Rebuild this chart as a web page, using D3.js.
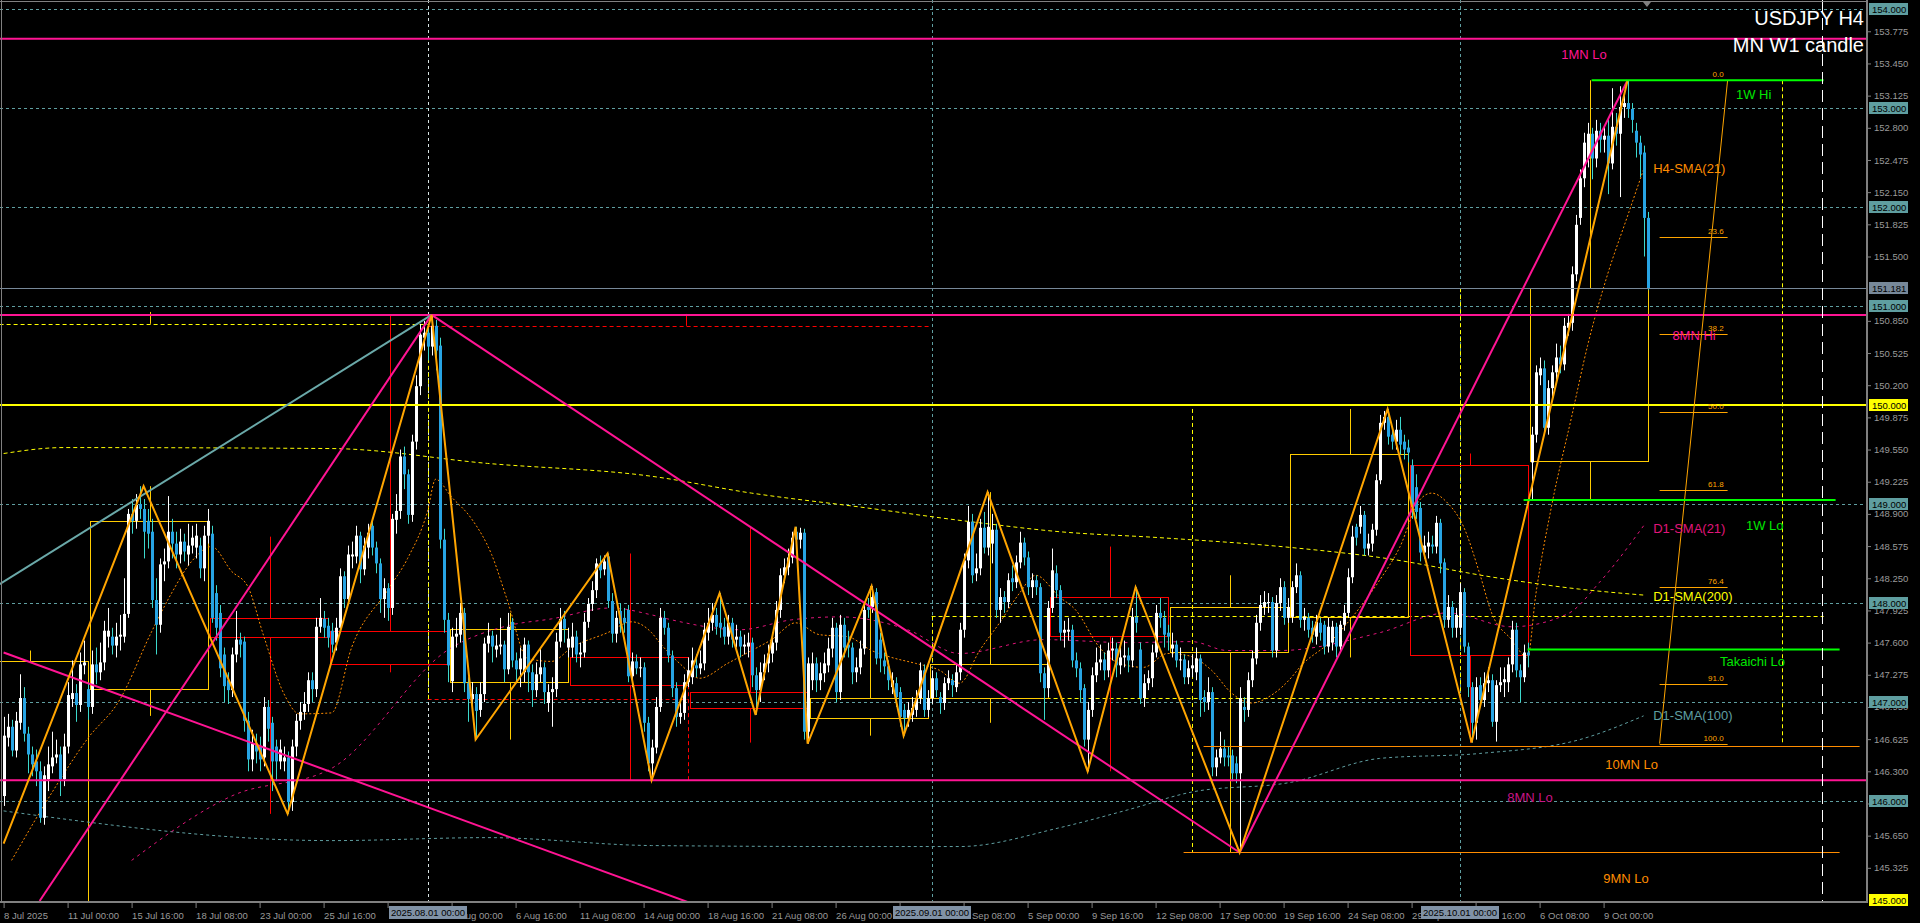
<!DOCTYPE html>
<html><head><meta charset="utf-8">
<script src="https://cdn.jsdelivr.net/npm/d3@7"></script>
<style>html,body{margin:0;padding:0;background:#000;overflow:hidden}svg{display:block}</style>
</head><body>
<svg id="c" width="1920" height="923"></svg>
<script>
// ---------------- DATA (USDJPY H4, bar index 0 = 8 Jul 2025 08:00) ----------------
const opens = [
146.05,146.64,146.75,146.51,146.79,147.04,146.68,146.47,146.40,146.30,
145.83,146.22,146.35,146.44,146.47,146.22,146.55,147.03,147.09,146.97,
147.37,147.13,146.95,147.38,147.30,147.40,147.66,147.66,147.57,147.66,
147.66,147.89,148.90,148.83,149.00,148.95,148.83,148.72,148.03,147.78,
148.39,148.42,148.72,148.60,148.49,148.62,148.49,148.58,148.56,148.58,
148.35,148.68,148.70,148.10,147.90,147.48,147.22,147.12,147.48,147.63,
147.61,146.81,146.42,146.58,146.55,146.44,146.95,146.79,146.55,146.40,
146.40,146.44,145.99,146.55,146.81,146.90,146.98,147.22,147.13,147.76,
147.84,147.77,147.72,147.60,147.75,148.27,148.04,148.47,148.47,148.68,
148.34,148.56,148.78,148.56,148.40,148.04,148.15,147.95,148.84,148.93,
149.48,149.30,148.89,149.63,150.19,150.68,150.73,150.59,150.80,150.60,
148.64,147.83,147.21,147.66,147.68,147.90,147.19,147.03,147.08,146.92,
147.08,147.59,147.67,147.53,147.56,147.58,147.33,147.81,147.42,147.33,
147.30,147.58,147.30,147.12,147.28,147.35,146.99,147.10,147.13,147.61,
147.84,147.55,147.55,147.66,147.48,147.50,147.81,147.99,148.13,148.40,
148.34,148.47,148.02,147.69,147.92,147.85,147.93,147.26,147.41,147.34,
147.35,146.79,
146.38,146.54,146.95,147.85,147.75,147.47,147.14,146.85,146.89,147.20,
147.25,147.37,147.34,147.39,147.70,147.80,147.88,147.80,147.76,147.66,
147.80,147.63,147.66,147.56,147.56,147.60,147.27,147.12,147.30,147.39,
147.49,147.60,147.93,148.28,148.36,148.46,148.72,148.64,148.71,146.70,
147.22,147.39,147.22,147.29,147.37,147.54,147.75,147.10,147.78,147.58,
147.55,147.30,147.35,147.54,147.96,147.96,148.11,147.63,147.42,147.36,
147.15,147.19,147.10,146.92,146.84,146.87,146.92,147.04,147.32,146.92,
147.04,147.24,147.05,146.99,147.19,147.22,147.15,147.30,147.73,148.43,
148.82,148.30,148.35,148.76,148.56,148.60,148.74,147.93,148.06,148.01,
148.25,148.21,148.41,148.61,148.46,148.16,148.23,148.16,147.29,147.14,
147.95,148.30,148.13,147.70,147.71,147.73,147.42,147.34,147.14,146.62,
146.92,147.27,147.40,147.43,147.32,147.52,147.54,147.37,147.45,147.47,
147.42,147.86,147.53,147.04,147.19,147.24,147.50,147.90,147.85,147.70,
147.54,147.58,147.42,147.43,147.25,147.34,147.30,147.44,147.05,147.00,
147.10,146.34,146.44,146.53,146.46,146.46,146.38,146.28,146.95,146.92,
147.22,147.44,147.80,147.96,148.00,148.01,147.52,148.00,148.16,147.85,
147.86,148.16,148.28,147.83,147.85,147.75,147.66,147.80,147.78,147.56,
147.60,147.76,147.56,147.78,147.90,148.26,148.77,148.77,148.89,148.55,
148.60,148.74,149.24,149.82,149.88,149.70,149.63,149.75,149.63,149.57,
149.39,149.17,148.96,148.51,148.57,148.59,148.57,148.81,148.41,147.83,
147.96,147.75,147.75,148.11,147.56,147.15,146.79,147.17,147.02,147.19,
147.22,146.80,147.17,147.20,147.20,147.38,147.73,147.32,147.25,147.50,
149.42,149.70,150.30,150.37,149.77,150.17,150.33,150.48,150.41,150.78,
150.83,151.32,151.89,152.29,152.49,152.74,152.49,152.77,152.68,152.72,
152.44,152.81,152.74,153.01,153.05,152.99,152.77,152.65,152.55,151.89];
const closes = [
146.66,146.75,146.51,146.81,147.04,146.68,146.47,146.37,146.30,145.83,
146.26,146.37,146.44,146.47,146.22,146.55,147.07,147.09,146.97,147.38,
147.40,146.95,147.38,147.30,147.40,147.72,147.72,147.57,147.66,147.68,
147.89,148.90,148.83,148.99,148.95,148.72,148.70,148.03,147.78,148.39,
148.42,148.72,148.60,148.49,148.62,148.52,148.58,148.66,148.68,148.35,
148.68,148.83,147.85,147.75,147.34,147.16,147.12,147.48,147.63,147.58,
146.81,146.42,146.58,146.50,146.42,146.95,146.73,146.40,146.40,146.52,
146.44,145.99,146.55,146.81,146.90,146.98,147.22,147.13,147.76,147.85,
147.75,147.65,147.58,147.75,148.27,148.04,148.49,148.49,148.68,148.34,
148.58,148.71,148.56,148.40,148.04,148.15,147.95,148.85,148.93,149.48,
149.30,148.89,149.63,150.19,150.71,150.73,150.59,150.80,150.55,148.64,
147.83,147.37,147.66,147.69,147.90,147.19,147.03,147.08,146.91,147.08,
147.59,147.67,147.56,147.57,147.58,147.33,147.76,147.42,147.33,147.44,
147.58,147.30,147.12,147.28,147.35,147.10,147.10,147.13,147.61,147.84,
147.74,147.64,147.66,147.48,147.50,147.81,147.99,148.13,148.40,148.33,
148.42,148.02,147.69,147.85,147.79,147.80,147.26,147.41,147.34,147.35,
146.79,146.38,
146.54,146.95,147.85,147.75,147.47,147.14,146.85,146.89,147.20,147.32,
147.42,147.34,147.39,147.73,147.80,147.88,147.76,147.75,147.66,147.80,
147.63,147.66,147.56,147.58,147.60,147.27,147.12,147.30,147.39,147.49,
147.60,147.93,148.28,148.36,148.46,148.66,148.64,148.71,146.70,147.39,
147.39,147.22,147.29,147.39,147.54,147.75,147.10,147.78,147.55,147.55,
147.30,147.35,147.54,147.93,147.93,148.06,147.44,147.44,147.36,147.22,
147.22,147.05,146.85,146.84,146.92,146.94,147.04,147.32,146.92,147.04,
147.24,147.12,146.99,147.19,147.24,147.17,147.30,147.73,148.43,148.82,
148.28,148.35,148.76,148.56,148.77,148.74,147.93,148.06,148.01,148.23,
148.21,148.41,148.61,148.46,148.16,148.23,148.16,147.29,147.14,147.95,
148.33,148.13,147.70,147.73,147.73,147.42,147.34,147.12,146.62,146.92,
147.27,147.40,147.43,147.32,147.52,147.54,147.37,147.45,147.47,147.42,
147.86,147.80,147.04,147.19,147.24,147.50,147.90,147.85,147.68,147.66,
147.58,147.42,147.43,147.25,147.34,147.37,147.44,147.02,147.00,147.10,
146.34,146.44,146.53,146.44,146.44,146.28,146.28,147.04,146.92,147.22,
147.44,147.80,147.98,148.01,148.01,147.52,148.00,148.16,147.85,147.96,
148.16,148.28,147.83,147.86,147.73,147.68,147.81,147.70,147.56,147.76,
147.76,147.56,147.78,147.90,148.26,148.67,148.66,148.89,148.55,148.60,
148.74,149.24,149.82,149.88,149.68,149.63,149.75,149.60,149.55,149.52,
148.97,148.92,148.51,148.58,148.61,148.57,148.81,148.40,147.83,147.96,
147.75,147.88,148.11,147.56,147.15,146.79,147.15,147.02,147.19,147.22,
146.80,147.17,147.20,147.23,147.38,147.73,147.32,147.25,147.50,147.47,
149.70,150.33,150.37,149.77,150.17,150.33,150.48,150.41,150.80,150.83,
151.32,151.82,152.29,152.65,152.74,152.49,152.77,152.68,152.72,152.44,
152.81,152.74,153.01,153.05,152.99,152.88,152.65,152.53,151.89,151.181];
const highs = [
146.85,146.88,146.82,146.90,147.28,147.15,146.75,146.55,146.52,146.40,
146.35,146.55,146.70,146.62,146.55,146.68,147.20,147.42,147.18,147.50,
147.62,147.20,147.52,147.55,147.60,147.82,147.95,147.75,147.80,147.88,
148.25,148.95,149.05,149.10,149.18,149.05,148.95,148.85,148.25,148.45,
148.55,149.08,148.85,148.72,148.75,148.70,148.80,148.78,148.80,148.66,
148.78,148.95,148.78,148.18,147.98,147.55,147.30,147.55,147.92,147.70,
147.66,146.90,146.72,146.68,146.65,147.05,147.02,146.85,146.62,146.62,
146.55,146.50,146.62,146.88,147.00,147.10,147.30,147.30,147.85,148.05,
147.92,147.85,147.80,147.85,148.35,148.32,148.58,148.62,148.78,148.72,
148.66,148.80,148.85,148.62,148.45,148.25,148.20,148.90,149.10,149.55,
149.58,149.35,149.70,150.30,150.82,150.85,150.82,150.91,150.86,150.68,
148.75,147.90,147.75,147.85,148.00,147.95,147.25,147.20,147.15,147.20,
147.65,147.80,147.72,147.68,147.85,147.62,147.90,147.85,147.50,147.55,
147.65,147.62,147.38,147.40,147.55,147.40,147.18,147.25,147.70,147.95,
147.92,147.75,147.80,147.72,147.60,147.90,148.05,148.22,148.45,148.48,
148.48,148.50,148.10,147.92,148.00,147.95,147.98,147.50,147.48,147.45,
147.40,146.85,
146.62,147.05,147.95,147.92,147.80,147.52,147.20,147.00,147.28,147.45,
147.55,147.48,147.52,147.80,147.95,148.00,147.95,148.10,147.85,147.88,
147.85,147.78,147.72,147.68,147.70,147.65,147.35,147.40,147.48,147.58,
147.70,148.02,148.35,148.45,148.55,148.72,148.77,148.76,148.75,147.45,
147.50,147.45,147.40,147.50,147.65,147.85,147.80,147.88,147.85,147.72,
147.60,147.45,147.62,148.00,148.05,148.17,148.15,147.70,147.50,147.42,
147.30,147.25,147.15,146.98,147.00,147.05,147.12,147.40,147.38,147.12,
147.32,147.30,147.10,147.25,147.32,147.28,147.38,147.80,148.50,148.98,
148.90,148.50,148.85,148.92,149.12,148.90,148.80,148.15,148.12,148.30,
148.38,148.48,148.72,148.66,148.52,148.30,148.28,148.20,147.35,148.02,
148.55,148.38,148.18,147.82,147.85,147.78,147.50,147.40,147.18,147.00,
147.35,147.55,147.58,147.50,147.60,147.65,147.60,147.55,147.62,147.55,
147.95,148.16,147.60,147.28,147.32,147.58,147.98,148.05,147.92,147.78,
147.70,147.62,147.55,147.48,147.42,147.48,147.55,147.48,147.12,147.25,
147.15,146.52,146.70,146.62,146.55,146.52,146.45,147.15,147.05,147.30,
147.52,147.88,148.08,148.12,148.10,148.06,148.08,148.25,148.22,148.05,
148.22,148.40,148.32,147.95,147.90,147.82,147.88,147.85,147.82,147.85,
147.82,147.80,147.82,147.98,148.35,148.78,148.80,148.98,148.93,148.70,
148.80,149.30,149.90,149.94,149.96,149.78,149.85,149.88,149.70,149.65,
149.45,149.30,149.02,148.68,148.72,148.68,148.88,148.85,148.45,148.08,
148.02,147.95,148.20,148.15,147.60,147.20,147.25,147.25,147.30,147.35,
147.28,147.22,147.35,147.35,147.45,147.82,147.80,147.38,147.58,147.60,
149.78,150.40,150.48,150.45,150.25,150.40,150.62,150.60,150.88,150.92,
151.40,151.92,152.38,152.75,152.85,152.80,152.88,152.85,152.82,152.90,
153.20,152.95,153.22,153.15,153.28,153.05,152.85,152.72,152.62,151.95];
const lows = [
145.95,146.55,146.45,146.44,146.72,146.60,146.28,146.25,146.15,145.78,
145.76,146.10,146.28,146.38,146.05,146.15,146.48,146.95,146.80,146.90,
147.28,146.82,146.88,147.18,147.22,147.32,147.55,147.48,147.45,147.52,
147.60,147.85,148.70,148.75,148.85,148.45,148.55,147.95,147.48,147.70,
148.22,148.35,148.45,148.35,148.40,148.42,148.38,148.50,148.45,148.25,
148.22,148.60,147.80,147.62,147.25,147.00,146.98,147.05,147.40,147.45,
146.70,146.30,146.30,146.38,146.30,146.35,146.60,146.10,146.20,146.32,
146.30,145.87,145.90,146.45,146.72,146.82,146.90,147.00,147.05,147.70,
147.65,147.55,147.50,147.52,147.70,147.95,147.98,148.35,148.40,148.20,
148.28,148.45,148.48,148.30,147.90,147.85,147.82,147.88,148.70,148.85,
149.15,148.80,148.82,149.55,150.10,150.55,150.45,150.50,150.35,148.55,
147.70,147.20,147.10,147.55,147.60,147.10,146.80,146.92,146.62,146.85,
147.00,147.50,147.40,147.45,147.48,147.20,147.28,147.35,147.20,147.15,
147.20,147.10,146.95,147.05,147.20,146.98,146.90,146.75,147.05,147.55,
147.60,147.45,147.45,147.40,147.35,147.45,147.75,147.92,148.05,148.25,
148.28,147.95,147.60,147.60,147.70,147.70,147.20,147.15,147.28,147.25,
146.70,146.30,
146.21,146.48,146.90,147.68,147.40,147.05,146.75,146.78,146.82,147.15,
147.18,147.25,147.28,147.32,147.62,147.72,147.68,147.65,147.58,147.58,
147.55,147.55,147.45,147.48,147.45,147.15,146.87,147.00,147.22,147.30,
147.40,147.52,147.85,148.20,148.28,148.40,148.55,148.55,146.62,146.58,
147.12,147.10,147.12,147.20,147.30,147.45,147.00,147.02,147.45,147.45,
147.18,147.20,147.28,147.48,147.85,147.90,147.38,147.30,147.28,147.12,
147.08,146.95,146.75,146.66,146.75,146.80,146.85,146.98,146.85,146.85,
146.98,147.05,146.88,146.92,147.12,147.05,147.10,147.22,147.65,148.35,
148.20,148.22,148.28,148.50,148.48,148.40,147.85,147.80,147.90,147.95,
148.12,148.15,148.35,148.38,148.08,148.05,148.08,147.20,146.82,147.05,
147.90,148.05,147.62,147.55,147.62,147.35,147.25,147.00,146.55,146.30,
146.85,147.20,147.32,147.22,147.25,147.42,147.25,147.28,147.35,147.30,
147.35,147.70,146.98,146.95,147.12,147.15,147.45,147.75,147.55,147.52,
147.45,147.35,147.32,147.18,147.18,147.25,147.22,146.85,146.90,146.92,
146.25,146.25,146.38,146.35,146.35,146.20,146.18,145.48,146.80,146.85,
147.15,147.38,147.72,147.88,147.90,147.45,147.45,147.92,147.78,147.80,
147.80,148.10,147.75,147.72,147.65,147.60,147.58,147.62,147.48,147.50,
147.52,147.45,147.50,147.72,147.85,148.20,148.58,148.70,148.48,148.48,
148.52,148.68,149.20,149.75,149.60,149.55,149.55,149.50,149.45,149.42,
148.85,148.85,148.42,148.45,148.45,148.50,148.50,148.30,147.75,147.75,
147.65,147.65,147.68,147.50,147.05,146.59,146.62,146.95,146.95,147.10,
146.75,146.60,147.10,147.05,147.10,147.30,147.25,147.00,147.20,147.35,
149.04,149.62,150.20,149.70,149.70,150.08,150.25,150.32,150.35,150.70,
150.75,151.25,151.82,152.20,152.40,152.28,152.40,152.55,152.55,152.13,
152.38,152.62,152.10,152.90,152.90,152.75,152.50,152.30,151.50,151.16];

// time axis (labels that the separator boxes fully cover are left blank, as in the reference)
const tickBars = [0,16,32,48,64,80,96,112,128,144,160,176,192,208,224,240,256,272,288,304,320,336,352,368,384,400];
const tickLabels = ["8 Jul 2025","11 Jul 00:00","15 Jul 16:00","18 Jul 08:00","23 Jul 00:00","25 Jul 16:00","","4 Aug 00:00","6 Aug 16:00","11 Aug 08:00","14 Aug 00:00","18 Aug 16:00","21 Aug 08:00","26 Aug 00:00","","2 Sep 08:00","5 Sep 00:00","9 Sep 16:00","12 Sep 08:00","17 Sep 00:00","19 Sep 16:00","24 Sep 08:00","29 Sep 00:00","1 Oct 16:00","6 Oct 08:00","9 Oct 00:00"];
const sepBars = [106, 232, 364];
const sepLabels = ["2025.08.01 00:00","2025.09.01 00:00","2025.10.01 00:00"];

// price axis
const priceTicks = [145.325,145.65,145.975,146.3,146.625,146.95,147.275,147.6,147.925,148.25,148.575,148.9,149.225,149.55,149.875,150.2,150.525,150.85,151.5,151.825,152.15,152.475,152.8,153.125,153.45,153.775];
const gridPrices = [146,147,148,149,150,151,152,153,154];
const markPrices = [154,153,152,151.181,151,150,149,148,147,146,145];
const markKinds  = ["grid","grid","grid","bid","grid","key","grid","grid","grid","grid","key"];

// levels
const pinkLevels = [153.70, 150.91, 146.21];
const currentPrice = 151.181;
const keyLevel = 150.0;
const weekLevelPrices = [153.28, 149.04, 147.53];
const weekLevelFrom = [397, 380, 381];
const weekLevelTo = [455, 458, 459];
const monthLevelPrices = [146.56, 145.48];
const monthLevelFrom = [300, 295];
const monthLevelTo = [464, 459];

// weekly candles (MN W1 candle indicator)
const wkStart = [-8,22,52,82,112,142,172,202,232,262,292,322,352,382];
const wkEnd   = [21,51,81,111,141,171,201,231,261,291,321,351,381,411];
const wkOpen  = [144.50,147.13,147.85,147.72,147.20,147.45,147.10,146.84,147.04,148.06,147.51,147.86,149.39,149.43];
const wkClose = [147.41,148.83,147.66,147.38,147.74,147.17,146.94,147.04,147.38,147.67,147.96,149.51,147.47,151.181];
const wkHigh  = [147.52,149.18,148.67,150.91,147.90,148.50,148.77,148.17,149.12,148.57,148.28,149.96,149.51,153.28];
const wkLow   = [144.20,146.86,145.87,147.30,146.62,146.21,146.59,146.66,146.79,146.30,145.48,147.45,146.59,149.04];

// monthly / previous-week dashed levels  [price, fromBar, toBar]
const yellowDashH = [[150.82,-1,106],[147.87,232,455],[147.04,259,364]];
const redDashH = [[150.80,106,232],[147.03,106,171]];
// [bar, priceTop, priceBottom]
const yellowDashV = [[106,150.82,147.03],[232,147.87,147.38],[297,149.96,145.48],[364,151.18,147.04],[444.6,153.28,146.58]];
const redDashV = [[171,147.17,146.21]];
const yellowTickV = [[36.5,150.94,150.82]];
const redTickV = [[170.5,150.92,150.80]];

// zigzag pivots [bar, price]
const zigzag = [[0,145.57],[35,149.18],[71,145.87],[107,150.91],[118,146.62],[151,148.50],[162,146.21],[179,148.10],[188,146.87],[198,148.77],[201,146.58],[217,148.17],[225,146.66],[246,149.12],[271,146.30],[283,148.16],[309,145.48],[346,149.96],[367,146.59],[406,153.28]];
// trend lines [[bar, price],[bar, price]]
const tealTrend = [[-1,148.19],[107,150.91]];
const pinkTrends = [[[9,144.99],[107,150.91]],[[107,150.91],[309,145.48]],[[309,145.48],[406,153.28]],[[0,147.50],[171,144.98]]];

// moving averages [bar, price]
const smaH4_21 = [[2,145.40],[12,146.08],[21,146.63],[29,147.02],[37,147.71],[42,148.10],[47,148.42],[52,148.57],[57,148.32],[61,148.17],[65,147.67],[70,147.09],[74,146.88],[82,146.89],[87,147.55],[96,148.13],[101,148.45],[106,148.93],[108,149.25],[112,149.07],[117,148.85],[122,148.49],[126,148.02],[131,147.44],[137,147.41],[142,147.55],[151,147.70],[157,147.81],[162,147.70],[164,147.60],[169,147.39],[174,147.24],[181,147.39],[187,147.52],[192,147.63],[198,147.80],[204,147.68],[211,147.66],[217,147.52],[222,147.45],[228,147.39],[234,147.32],[239,147.19],[244,147.52],[249,147.80],[254,148.10],[258,148.28],[264,148.06],[268,147.93],[274,147.55],[279,147.39],[285,147.35],[291,147.49],[296,147.47],[302,147.32],[307,147.09],[312,146.99],[317,147.07],[322,147.25],[324,147.35],[332,147.62],[338,147.90],[344,148.23],[349,148.56],[354,149.04],[357,149.11],[361,149.01],[365,148.77],[369,148.30],[372,147.90],[377,147.63],[381,147.45],[383,148.07],[387,148.98],[392,149.88],[396,150.60],[401,151.32],[406,151.91],[410,152.38]];
const smaD1_21 = [[32,145.40],[57,146.05],[82,146.33],[112,147.55],[126,147.77],[137,147.84],[152,147.95],[162,147.88],[167,147.83],[184,147.73],[197,147.83],[209,147.86],[226,147.73],[239,147.49],[260,147.63],[281,147.60],[297,147.61],[306,147.52],[319,147.52],[344,147.70],[361,147.90],[377,147.76],[391,147.89],[399,148.21],[410,148.78]];
const smaD1_100 = [[0,145.90],[82,145.60],[121,145.63],[162,145.55],[213,145.54],[239,145.54],[264,145.73],[281,145.91],[297,146.09],[322,146.19],[344,146.43],[369,146.48],[394,146.62],[410,146.86]];
const smaD1_200 = [[0,149.51],[15,149.57],[82,149.56],[121,149.41],[162,149.28],[187,149.11],[214,148.97],[242,148.82],[264,148.72],[289,148.66],[322,148.56],[344,148.46],[374,148.25],[394,148.14],[410,148.08]];

// fibonacci
const fibHigh = 153.28, fibLow = 146.58;
const fibLevels = [0, 23.6, 38.2, 50.0, 61.8, 76.4, 91.0, 100.0];
const fibFrom = 414, fibTo = 431;

// annotations [text] anchored at [bar, price]
const annoText  = ["1MN Lo","1W Hi","H4-SMA(21)","8MN Hi","1W Lo","D1-SMA(21)","D1-SMA(200)","Takaichi Lo","D1-SMA(100)","10MN Lo","8MN Lo","9MN Lo"];
const annoBar   = [389.4,433.1,412.4,417.2,435.6,412.4,412.4,429.1,412.4,400.4,375.9,399.9];
const annoPrice = [153.50,153.09,152.34,150.66,148.74,148.71,148.02,147.36,146.82,146.32,145.99,145.17];

// ---------------- RENDER ----------------
if (![opens,closes,highs,lows].every(a => a.length === 412)) {
  throw new Error("length mismatch " + [opens.length, closes.length, highs.length, lows.length].join(","));
}
const FONT = "'Liberation Sans', Arial, sans-serif";
const plotRight = 1866, plotBottom = 901;
const x = d3.scaleLinear().domain([0, 466]).range([3.6, 3.6 + 466 * 4]);
const y = d3.scaleLinear().domain([145, 154]).range([900, 9]);
const col = {
  grid: "#5f9ea0", bull: "#ffffff", bear: "#27a4e4", bearWick: "#3cd8cc",
  pink: "#ff1493", orange: "#ffa500", yellow: "#ffff00", gold: "#ffcc00",
  lime: "#00ff00", teal: "#5f9ea0", red: "#ff0000", axis: "#808080", axisText: "#9a9a9a"
};

const svg = d3.select("#c");
svg.append("rect").attr("width", 1920).attr("height", 923).attr("fill", "#000");
svg.append("defs").append("clipPath").attr("id", "plot")
  .append("rect").attr("x", 0).attr("y", 0).attr("width", plotRight).attr("height", plotBottom);
const g = svg.append("g").attr("clip-path", "url(#plot)");
const line = d3.line().x(d => x(d[0])).y(d => y(d[1]));
const smooth = d3.line().x(d => x(d[0])).y(d => y(d[1])).curve(d3.curveMonotoneX);
const cy = p => Math.round(y(p)) + 0.5;

// grid
g.selectAll(".gh").data(gridPrices).join("line")
  .attr("x1", 0).attr("x2", plotRight).attr("y1", d => cy(d)).attr("y2", d => cy(d))
  .attr("stroke", col.grid).attr("stroke-dasharray", "3,3").attr("stroke-width", 1);
g.selectAll(".gv").data(sepBars).join("line")
  .attr("x1", d => Math.round(x(d)) + 0.5).attr("x2", d => Math.round(x(d)) + 0.5)
  .attr("y1", 0).attr("y2", plotBottom)
  .attr("stroke", (d, i) => i === 0 ? "#d8e4e4" : col.grid).attr("stroke-dasharray", "3,3");

// dashed monthly/prev-week levels
const hseg = (arr, color) => g.append("g").selectAll("line").data(arr).join("line")
  .attr("x1", d => x(d[1])).attr("x2", d => x(d[2])).attr("y1", d => cy(d[0])).attr("y2", d => cy(d[0]))
  .attr("stroke", color).attr("stroke-dasharray", "4,3");
const vseg = (arr, color, dash) => g.append("g").selectAll("line").data(arr).join("line")
  .attr("x1", d => Math.round(x(d[0])) + 0.5).attr("x2", d => Math.round(x(d[0])) + 0.5)
  .attr("y1", d => y(d[1])).attr("y2", d => y(d[2]))
  .attr("stroke", color).attr("stroke-dasharray", dash);
hseg(yellowDashH, col.yellow);
hseg(redDashH, col.red);
vseg(yellowDashV, col.yellow, "4,3");
vseg(redDashV, col.red, "4,3");
vseg(yellowTickV, col.gold, null);
vseg(redTickV, col.red, null);

// weekly boxes
const wk = wkStart.map((s, i) => ({s, e: wkEnd[i], o: wkOpen[i], c: wkClose[i], h: wkHigh[i], l: wkLow[i]}));
const wg = g.append("g");
wk.forEach(d => {
  const color = d.c >= d.o ? col.gold : col.red;
  const x0 = Math.round(x(d.s)) - 1.5, x1 = Math.round(x(d.e)) + 0.5;
  const top = Math.round(y(Math.max(d.o, d.c))) + 0.5, bot = Math.round(y(Math.min(d.o, d.c))) + 0.5;
  const xm = Math.round(x((d.s + d.e) / 2)) + 0.5;
  wg.append("rect").attr("x", x0).attr("y", top).attr("width", x1 - x0).attr("height", bot - top)
    .attr("fill", "none").attr("stroke", color).attr("stroke-width", 1);
  wg.append("line").attr("x1", xm).attr("x2", xm).attr("y1", y(d.h)).attr("y2", top).attr("stroke", color);
  wg.append("line").attr("x1", xm).attr("x2", xm).attr("y1", bot).attr("y2", y(d.l)).attr("stroke", color);
});

// moving averages
g.append("path").datum(smaD1_200).attr("d", smooth).attr("fill", "none").attr("stroke", col.yellow).attr("stroke-dasharray", "4,3");
g.append("path").datum(smaD1_100).attr("d", smooth).attr("fill", "none").attr("stroke", col.teal).attr("stroke-dasharray", "3,3");
g.append("path").datum(smaD1_21).attr("d", smooth).attr("fill", "none").attr("stroke", "#e0157a").attr("stroke-dasharray", "3,4");
g.append("path").datum(smaH4_21).attr("d", smooth).attr("fill", "none").attr("stroke", "#ff8c00").attr("stroke-dasharray", "2,2");

// candles
const bars = opens.map((o, i) => ({i, o, c: closes[i], h: Math.max(highs[i], o, closes[i]), l: Math.min(lows[i], o, closes[i])}));
const cg = g.append("g");
cg.selectAll("line").data(bars).join("line")
  .attr("x1", d => Math.round(x(d.i)) + 0.5).attr("x2", d => Math.round(x(d.i)) + 0.5)
  .attr("y1", d => y(d.h)).attr("y2", d => y(d.l))
  .attr("stroke", d => d.c >= d.o ? col.bull : col.bearWick).attr("stroke-width", 1);
cg.selectAll("rect").data(bars).join("rect")
  .attr("x", d => Math.round(x(d.i)) - 1).attr("width", 3)
  .attr("y", d => y(Math.max(d.o, d.c)))
  .attr("height", d => Math.max(1, Math.abs(y(d.o) - y(d.c))))
  .attr("fill", d => d.c >= d.o ? col.bull : col.bear);

// horizontal levels
g.append("line").attr("x1", 0).attr("x2", plotRight).attr("y1", cy(currentPrice)).attr("y2", cy(currentPrice)).attr("stroke", "#778899");
g.selectAll(".pl").data(pinkLevels).join("line")
  .attr("x1", 0).attr("x2", plotRight).attr("y1", d => y(d)).attr("y2", d => y(d))
  .attr("stroke", col.pink).attr("stroke-width", 2);
g.append("line").attr("x1", 0).attr("x2", plotRight).attr("y1", y(keyLevel)).attr("y2", y(keyLevel))
  .attr("stroke", col.yellow).attr("stroke-width", 2);
g.selectAll(".ml").data(monthLevelPrices).join("line")
  .attr("x1", (d, i) => x(monthLevelFrom[i])).attr("x2", (d, i) => x(monthLevelTo[i]))
  .attr("y1", d => cy(d)).attr("y2", d => cy(d)).attr("stroke", "#ff8c00");

// trend lines
g.append("path").datum(tealTrend).attr("d", line).attr("stroke", "#6aa9a9").attr("stroke-width", 2).attr("fill", "none");
g.selectAll(".pt").data(pinkTrends).join("path").attr("d", line)
  .attr("stroke", col.pink).attr("stroke-width", 2).attr("fill", "none");
g.append("path").datum(zigzag).attr("d", line).attr("stroke", col.orange).attr("stroke-width", 2)
  .attr("fill", "none").attr("stroke-linejoin", "miter");

// fibonacci
const fibP = lv => fibHigh - (fibHigh - fibLow) * lv / 100;
g.append("path").datum([[fibFrom, fibLow], [fibTo, fibHigh]]).attr("d", line).attr("stroke", col.orange).attr("fill", "none");
g.selectAll(".fl").data(fibLevels).join("line")
  .attr("x1", x(fibFrom)).attr("x2", x(fibTo)).attr("y1", d => cy(fibP(d))).attr("y2", d => cy(fibP(d)))
  .attr("stroke", col.orange);
g.selectAll(".ft").data(fibLevels).join("text")
  .attr("x", x(fibTo) - 4).attr("y", d => y(fibP(d)) - 3).attr("text-anchor", "end")
  .attr("font-family", FONT).attr("font-size", 8).attr("fill", col.orange)
  .text(d => d3.format(".1f")(d));

// weekly H/L lines (on top)
g.selectAll(".wl").data(weekLevelPrices).join("line")
  .attr("x1", (d, i) => x(weekLevelFrom[i])).attr("x2", (d, i) => x(weekLevelTo[i]))
  .attr("y1", d => y(d)).attr("y2", d => y(d)).attr("stroke", col.lime).attr("stroke-width", 2);

// white dashed chart-shift line
g.append("line").attr("x1", 1822.5).attr("x2", 1822.5).attr("y1", 0).attr("y2", plotBottom)
  .attr("stroke", "#ffffff").attr("stroke-dasharray", "12,6");

// annotations
const annoColor = ["#ff1493", "#00e600", "#ff8c00", "#ff1493", "#00e600", "#e0157a", "#ffff00", "#00e600", "#5f9ea0", "#ff8c00", "#c71585", "#ff8c00"];
g.selectAll(".an").data(annoText).join("text")
  .attr("x", (d, i) => x(annoBar[i])).attr("y", (d, i) => y(annoPrice[i]))
  .attr("font-family", FONT).attr("font-size", 13).attr("fill", (d, i) => annoColor[i])
  .text(d => d);

// titles
svg.append("text").attr("x", 1864).attr("y", 24.5).attr("text-anchor", "end")
  .attr("font-family", FONT).attr("font-size", 20).attr("fill", "#ffffff").text("USDJPY H4");
svg.append("text").attr("x", 1864).attr("y", 52).attr("text-anchor", "end")
  .attr("font-family", FONT).attr("font-size", 20).attr("fill", "#ffffff").text("MN W1 candle");

// frame
svg.append("line").attr("x1", 0).attr("x2", plotRight).attr("y1", 1.5).attr("y2", 1.5).attr("stroke", col.axis);
svg.append("line").attr("x1", 1.5).attr("x2", 1.5).attr("y1", 0).attr("y2", plotBottom).attr("stroke", col.axis);
svg.append("path").attr("d", "M1643,2 L1651,2 L1647,7 Z").attr("fill", col.axis);

// price axis
const ya = d3.axisRight(y).tickValues(priceTicks).tickFormat(d3.format(".3f")).tickSize(4).tickPadding(3).tickSizeOuter(0);
const yg = svg.append("g").attr("transform", "translate(1867,0)").call(ya);
yg.select(".domain").remove();
yg.selectAll(".tick line").attr("stroke", col.axis);
yg.selectAll(".tick text").attr("fill", col.axisText).attr("font-family", FONT).attr("font-size", 9.5);
svg.append("line").attr("x1", 1867).attr("x2", 1867).attr("y1", 0).attr("y2", 903).attr("stroke", col.axis).attr("stroke-width", 2);

const markColor = k => k === "key" ? "#ffff00" : (k === "bid" ? "#778899" : "#5f9ea0");
const mk = svg.append("g").selectAll("g").data(markPrices).join("g")
  .attr("transform", d => `translate(1869,${Math.round(y(d))})`);
mk.append("rect").attr("x", 0).attr("y", -6).attr("width", 39).attr("height", 12)
  .attr("fill", (d, i) => markColor(markKinds[i]));
mk.append("text").attr("x", 3).attr("y", 4).attr("font-family", FONT).attr("font-size", 9.5)
  .attr("fill", "#000").text(d => d3.format(".3f")(d));

// time axis
svg.append("line").attr("x1", 0).attr("x2", 1868).attr("y1", 902).attr("y2", 902).attr("stroke", col.axis).attr("stroke-width", 2);
const xa = d3.axisBottom(x).tickValues(tickBars).tickFormat((d, i) => tickLabels[i]).tickSize(5).tickSizeOuter(0);
const xg = svg.append("g").attr("transform", "translate(0,903)").call(xa);
xg.select(".domain").remove();
xg.selectAll(".tick line").attr("stroke", col.axis);
xg.selectAll(".tick text").attr("fill", col.axisText).attr("font-family", FONT).attr("font-size", 9.5)
  .attr("text-anchor", "start").attr("x", 0).attr("y", 9);
const sp = svg.append("g").selectAll("g").data(sepBars).join("g")
  .attr("transform", d => `translate(${Math.round(x(d))},0)`);
sp.append("rect").attr("x", -39).attr("y", 906).attr("width", 78).attr("height", 13).attr("fill", "#8092a6");
sp.append("text").attr("x", 0).attr("y", 916).attr("text-anchor", "middle").attr("font-family", FONT)
  .attr("font-size", 9.5).attr("fill", "#000").text((d, i) => sepLabels[i]);
</script>
</body></html>
